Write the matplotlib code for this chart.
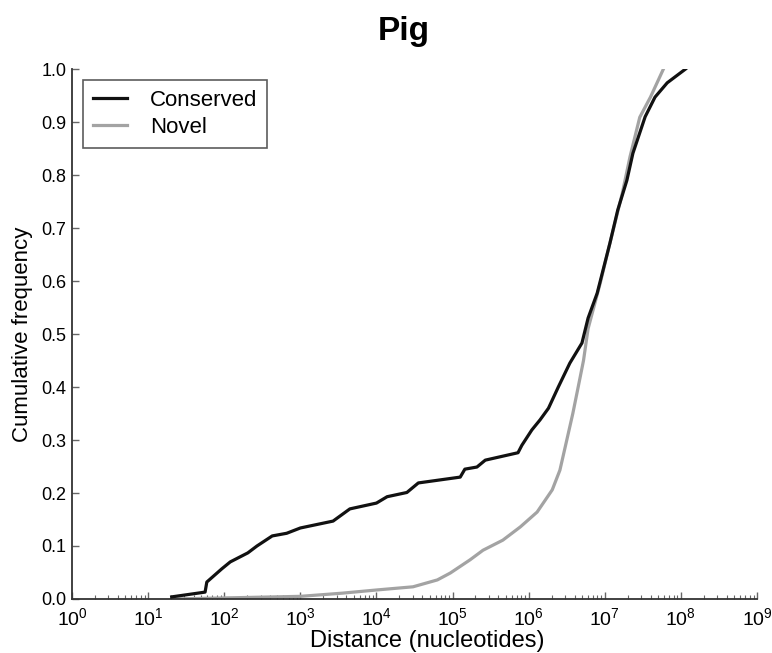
import matplotlib
matplotlib.use("Agg")
import matplotlib.pyplot as plt
from matplotlib.ticker import LogLocator, FixedLocator

plt.rcParams['font.family'] = ['Liberation Sans', 'DejaVu Sans']
plt.rcParams['mathtext.fontset'] = 'custom'
plt.rcParams['mathtext.rm'] = 'Liberation Sans'
plt.rcParams['mathtext.it'] = 'Liberation Sans'

title = "Pig"
x_label = "Distance (nucleotides)"
y_label = "Cumulative frequency"

conserved_dist = [20.4, 56, 59, 93, 120, 204, 269, 427, 661, 1000, 2690, 4470, 1.0e4,
                  1.38e4, 2.51e4, 3.55e4, 1.26e5, 1.45e5, 2.09e5, 2.69e5, 7.24e5, 8.13e5,
                  1.10e6, 1.41e6, 1.82e6, 2.45e6, 3.47e6, 5.01e6, 6.03e6, 7.94e6, 1.17e7,
                  1.48e7, 1.95e7, 2.34e7, 3.39e7, 4.57e7, 6.61e7, 1.15e8]
conserved_freq = [0.004, 0.013, 0.032, 0.057, 0.070, 0.087, 0.100, 0.119, 0.124, 0.134,
                  0.147, 0.170, 0.181, 0.193, 0.201, 0.219, 0.230, 0.245, 0.249, 0.262,
                  0.276, 0.290, 0.319, 0.338, 0.360, 0.400, 0.445, 0.483, 0.530, 0.577,
                  0.672, 0.734, 0.790, 0.841, 0.910, 0.947, 0.974, 1.000]

novel_dist = [20.4, 100, 1000, 3550, 1.0e4, 3.02e4, 6.31e4, 9.33e4, 1.70e5, 2.51e5, 4.57e5,
              7.76e5, 1.29e6, 2.04e6, 2.57e6, 3.02e6, 3.80e6, 4.47e6, 5.25e6, 6.03e6,
              8.71e6, 1.17e7, 1.70e7, 2.14e7, 2.88e7, 3.98e7, 5.89e7]
novel_freq = [0.000, 0.002, 0.005, 0.011, 0.017, 0.023, 0.036, 0.049, 0.074, 0.092, 0.111,
              0.136, 0.164, 0.206, 0.243, 0.287, 0.350, 0.400, 0.450, 0.510,
              0.596, 0.672, 0.766, 0.834, 0.909, 0.947, 1.000]

y_ticks = [0.0, 0.1, 0.2, 0.3, 0.4, 0.5, 0.6, 0.7, 0.8, 0.9, 1.0]
x_ticks = [1e0, 1e1, 1e2, 1e3, 1e4, 1e5, 1e6, 1e7, 1e8, 1e9]

fig = plt.figure(figsize=(7.72, 6.53), dpi=100)
ax = fig.add_axes([0.0933, 0.0827, 0.9806 - 0.0933, 0.8943 - 0.0827])

ax.plot(novel_dist, novel_freq, color='#a3a3a3', lw=2.3, label='Novel', zorder=2)
ax.plot(conserved_dist, conserved_freq, color='#111111', lw=2.3, label='Conserved', zorder=3)

ax.set_xscale('log')
ax.set_xlim(1e0, 1e9)
ax.set_ylim(0, 1.0)
ax.xaxis.set_major_locator(FixedLocator(x_ticks))
ax.xaxis.set_minor_locator(LogLocator(base=10, subs=range(2, 10), numticks=20))
ax.set_yticks(y_ticks)
ax.set_yticklabels([f"{v:.1f}" for v in y_ticks])

for s in ['top', 'right']:
    ax.spines[s].set_visible(False)
for s in ['left', 'bottom']:
    ax.spines[s].set_color('#333333')
    ax.spines[s].set_linewidth(1.3)

ax.tick_params(axis='both', which='major', direction='in', length=5, width=1,
               color='#666666', labelsize=13, pad=4)
ax.tick_params(axis='x', which='minor', direction='in', length=3, width=0.8, color='#666666')
ax.tick_params(axis='x', which='major', labelsize=14, pad=6)

ax.set_xlabel(x_label, fontsize=17)
ax.xaxis.set_label_coords(0.518, -0.058)
ax.set_ylabel(y_label, fontsize=16, labelpad=6)
fig.text(0.523, 0.951, title, fontsize=24, fontweight='bold', ha='center', va='center')

handles, labels = ax.get_legend_handles_labels()
order = [1, 0]
leg = ax.legend([handles[i] for i in order], [labels[i] for i in order],
                loc='upper left', bbox_to_anchor=(0.016, 0.979), borderaxespad=0,
                fontsize=16, frameon=True, fancybox=False, edgecolor='#333333',
                handlelength=1.55, handletextpad=1.0, borderpad=0.45, labelspacing=0.25)
leg.get_frame().set_linewidth(1.2)

fig.savefig('out.png', dpi=100)
